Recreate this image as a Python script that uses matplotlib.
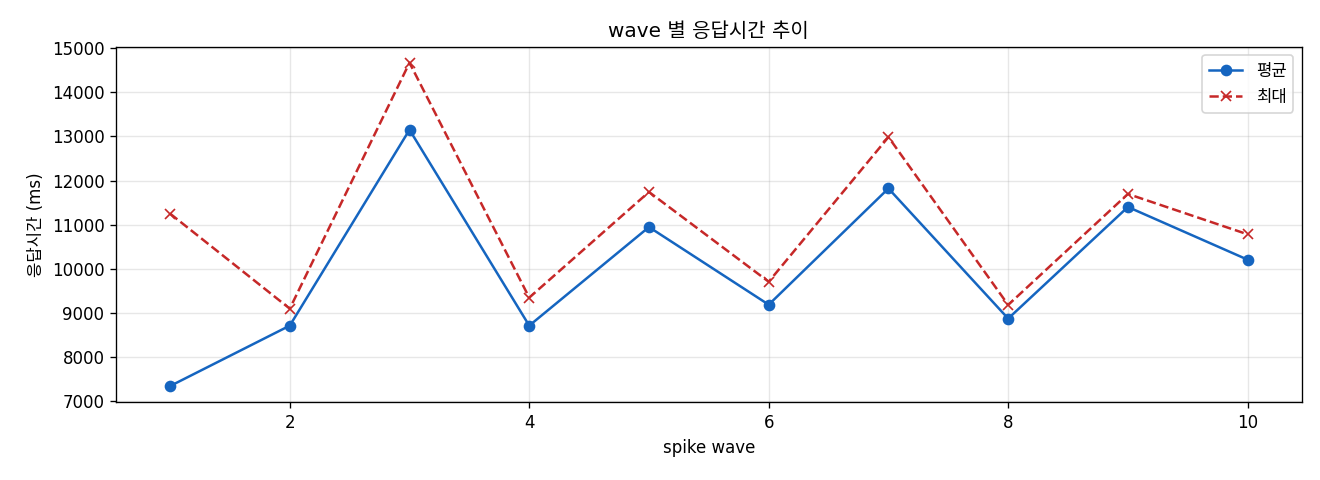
import matplotlib
matplotlib.use("Agg")
import matplotlib.pyplot as plt

# Latin glyphs from DejaVu, Korean from Noto CJK
plt.rcParams['font.family'] = ['DejaVu Sans', 'Noto Sans CJK KR']
plt.rcParams['axes.unicode_minus'] = False

waves = [1, 2, 3, 4, 5, 6, 7, 8, 9, 10]
avg_ms = [7340, 8710, 13150, 8710, 10945, 9185, 11820, 8870, 11400, 10205]
max_ms = [11250, 9095, 14670, 9345, 11740, 9705, 12985, 9180, 11695, 10780]

fig, ax = plt.subplots(figsize=(11, 4), dpi=120)
fig.subplots_adjust(left=0.088, right=0.986, top=0.903, bottom=0.162)

ax.plot(waves, avg_ms, '-o', color='#1565C0', label='평균', markersize=6, linewidth=1.5)
ax.plot(waves, max_ms, '--x', color='#C62828', label='최대', markersize=6, linewidth=1.5)

ax.set_title('wave 별 응답시간 추이')
ax.set_xlabel('spike wave')
ax.set_ylabel('응답시간 (ms)')
ax.grid(True, alpha=0.3)
ax.legend(loc='upper right')

fig.savefig('out.png')
